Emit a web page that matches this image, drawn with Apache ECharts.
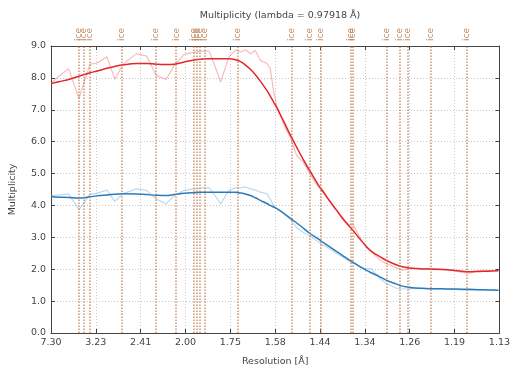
<!DOCTYPE html>
<html><head><meta charset="utf-8">
<script src="https://cdn.jsdelivr.net/npm/echarts@6/dist/echarts.min.js"></script>
<style>html,body{margin:0;padding:0;background:#fff}#c{width:513px;height:372px}</style>
</head><body><div id="c"></div>
<script>
// x tick labels (resolution, Å) — axis is linear in 1/d^2
const tickLabels = ['7.30','3.23','2.41','2.00','1.75','1.58','1.44','1.34','1.26','1.19','1.13'];
const S_MIN = 1 / (7.30 * 7.30);
const S_MAX = 0.78527;
// bin positions in 1/d^2 (Å^-2)
const invResSq = [0.0188,0.0323,0.0488,0.0666,0.0854,0.0968,0.1146,0.1278,0.1421,0.1646,
  0.1824,0.1985,0.2155,0.2296,0.2465,0.2635,0.2777,0.2889,0.2974,0.3087,
  0.3228,0.3342,0.3427,0.3511,0.3596,0.3681,0.3766,0.3879,0.3935,0.3991,
  0.4049,0.4161,0.4275,0.4388,0.4500,0.4614,0.4754,0.4839,0.4953,0.5066,
  0.5173,0.5263,0.5348,0.5462,0.5575,0.5660,0.5801,0.5914,0.6084,0.6196,
  0.6360,0.6530,0.6700,0.6869,0.7039,0.7208,0.7327,0.7497,0.7666,0.7836];
const anomMult = [7.83,8.05,8.29,7.35,8.43,8.46,8.66,7.96,8.43,8.76,
  8.68,8.08,7.95,8.40,8.74,8.81,8.84,8.84,8.45,7.87,
  8.66,8.88,8.81,8.88,8.76,8.86,8.55,8.45,8.29,7.60,
  7.10,6.55,6.15,5.56,5.35,4.99,4.57,4.47,4.15,3.84,
  3.55,3.37,3.43,3.02,2.68,2.55,2.30,2.18,2.05,1.97,
  2.03,2.02,2.03,2.00,1.98,1.90,1.88,1.95,1.96,1.96];
const anomMultFit = [7.82,7.88,7.95,8.05,8.16,8.21,8.30,8.36,8.41,8.45,
  8.45,8.43,8.42,8.43,8.50,8.56,8.59,8.60,8.60,8.60,
  8.60,8.57,8.51,8.40,8.27,8.10,7.90,7.60,7.43,7.25,
  7.06,6.65,6.22,5.82,5.44,5.08,4.65,4.43,4.13,3.86,
  3.60,3.40,3.22,2.96,2.72,2.57,2.40,2.28,2.14,2.08,
  2.03,2.01,2.00,1.99,1.97,1.94,1.92,1.93,1.94,1.95];
const mult = [4.31,4.33,4.36,3.87,4.35,4.38,4.48,4.13,4.37,4.52,
  4.47,4.20,4.05,4.31,4.47,4.52,4.55,4.55,4.35,4.05,
  4.47,4.55,4.55,4.58,4.52,4.48,4.42,4.37,4.20,4.00,
  3.90,3.76,3.58,3.30,3.15,3.05,2.86,2.75,2.64,2.50,
  2.38,2.27,2.20,2.08,2.02,2.02,1.72,1.55,1.41,1.38,
  1.40,1.39,1.38,1.38,1.37,1.35,1.33,1.36,1.35,1.34];
const multFit = [4.28,4.26,4.25,4.23,4.27,4.30,4.33,4.35,4.37,4.36,
  4.34,4.32,4.31,4.34,4.38,4.40,4.41,4.41,4.41,4.41,
  4.41,4.41,4.39,4.36,4.31,4.24,4.16,4.06,4.00,3.95,
  3.90,3.76,3.60,3.45,3.29,3.12,2.95,2.84,2.70,2.56,
  2.43,2.32,2.22,2.09,1.97,1.89,1.77,1.66,1.54,1.47,
  1.42,1.40,1.39,1.385,1.38,1.375,1.37,1.36,1.35,1.34];
// ice ring d-spacings (Å)
const iceRings = [3.897,3.669,3.441,2.671,2.249,2.072,1.950,1.930,1.912,1.885,1.721,
  1.524,1.473,1.444,1.372,1.367,1.299,1.275,1.261,1.224,1.171];
const yTicks = [0,1,2,3,4,5,6,7,8,9];

const toT = s => (s - S_MIN) / (S_MAX - S_MIN) * 10;
const pts = arr => invResSq.map((s, i) => [toT(s), arr[i]]);
const iceT = iceRings.map(d => toT(1 / (d * d)));

const FONT = 'DejaVu Sans';
const TXT = '#444';
const AX = '#444';
const tickStyle = {show: true, inside: true, length: 4, lineStyle: {color: AX}};
const lineStyleAx = {show: true, onZero: false, lineStyle: {color: AX, width: 1}};

const chart = echarts.init(document.getElementById('c'), null, {renderer: 'canvas'});
chart.setOption({
  animation: false,
  backgroundColor: '#fff',
  title: {
    text: 'Multiplicity (lambda = 0.97918 Å)',
    left: 275, top: 6, textAlign: 'center',
    textStyle: {fontFamily: FONT, fontSize: 9.5, fontWeight: 'normal', color: TXT}
  },
  grid: {left: 49, right: 12, top: 46, bottom: 39},
  xAxis: [{
    type: 'value', min: 0, max: 10, interval: 1,
    name: 'Resolution [Å]', nameLocation: 'middle', nameGap: 24,
    nameTextStyle: {fontFamily: FONT, fontSize: 9.5, color: TXT},
    axisLine: lineStyleAx, axisTick: tickStyle,
    axisLabel: {fontFamily: FONT, fontSize: 9.5, color: TXT, margin: 5,
      formatter: v => tickLabels[Math.round(v)] ?? ''},
    splitLine: {show: true, lineStyle: {color: '#c8c8c8', type: [1, 2], width: 1}}
  }, {
    type: 'value', min: 0, max: 10, interval: 1, position: 'top',
    axisLine: lineStyleAx, axisTick: tickStyle,
    axisLabel: {show: false}, splitLine: {show: false}
  }],
  yAxis: [{
    type: 'value', min: yTicks[0], max: yTicks[yTicks.length - 1], interval: 1,
    name: 'Multiplicity', nameLocation: 'middle', nameGap: 33,
    nameTextStyle: {fontFamily: FONT, fontSize: 9.5, color: TXT},
    axisLine: lineStyleAx, axisTick: tickStyle,
    axisLabel: {fontFamily: FONT, fontSize: 9.5, color: TXT, margin: 5, formatter: v => v.toFixed(1)},
    splitLine: {show: true, lineStyle: {color: '#c8c8c8', type: [1, 2], width: 1}}
  }, {
    type: 'value', min: yTicks[0], max: yTicks[yTicks.length - 1], interval: 1, position: 'right',
    axisLine: lineStyleAx, axisTick: tickStyle,
    axisLabel: {show: false}, splitLine: {show: false}
  }],
  series: [
    {
      name: 'ice', type: 'scatter', symbolSize: 0, silent: true, clip: false, z: 1,
      data: iceT.map(t => [t, yTicks[yTicks.length - 1]]),
      label: {show: true, formatter: 'ice', position: 'top', distance: 5, rotate: 90,
        align: 'left', verticalAlign: 'middle',
        fontFamily: FONT, fontSize: 9, color: '#b5703f'},
      markLine: {
        silent: true, symbol: 'none', label: {show: false},
        lineStyle: {color: '#c07a4a', type: [1.5, 1.5], width: 1.6, opacity: 0.75},
        data: iceT.map(t => ({xAxis: t}))
      }
    },
    {name: 'Anomalous multiplicity', type: 'line', data: pts(anomMult), showSymbol: false,
      lineStyle: {color: 'rgba(235,60,60,0.35)', width: 1.2}, z: 2},
    {name: 'Multiplicity', type: 'line', data: pts(mult), showSymbol: false,
      lineStyle: {color: 'rgba(70,150,210,0.35)', width: 1.2}, z: 2},
    {name: 'Anomalous multiplicity (fit)', type: 'line', data: pts(anomMultFit), showSymbol: false, smooth: 0.4,
      lineStyle: {color: '#e3262b', width: 1.5}, z: 3},
    {name: 'Multiplicity (fit)', type: 'line', data: pts(multFit), showSymbol: false, smooth: 0.4,
      lineStyle: {color: '#2a7bbb', width: 1.5}, z: 3}
  ]
});
</script>
</body></html>
